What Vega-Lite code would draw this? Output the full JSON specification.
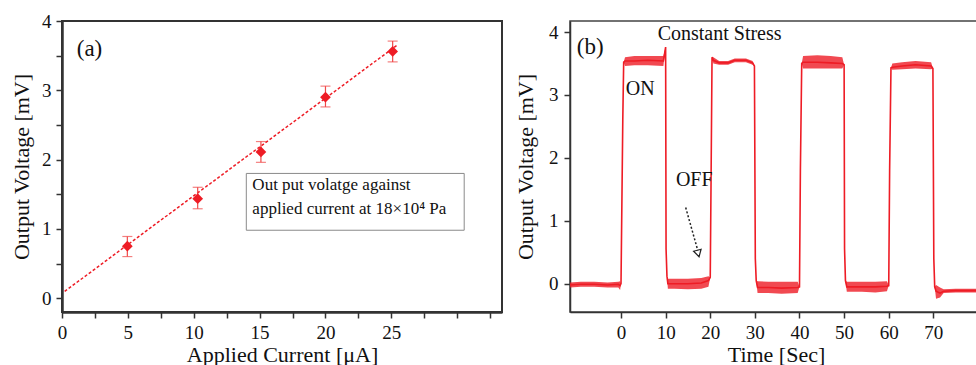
{
  "$schema": "https://vega.github.io/schema/vega-lite/v6.json",
  "background": "white",
  "padding": {"left": 9, "top": 11, "right": 0, "bottom": 0},
  "spacing": 10,
  "config": {
    "font": "Liberation Serif",
    "text": {"font": "Liberation Serif"},
    "axis": {
      "labelFont": "Liberation Serif", "titleFont": "Liberation Serif",
      "labelColor": "#111", "titleColor": "#111", "titleFontWeight": "normal",
      "grid": false, "domainColor": "#333", "tickColor": "#333",
      "labelFontSize": 19, "titleFontSize": 22, "labelFlush": false, "labelOverlap": false
    }
  },
  "datasets": {
    "a_pts": [
      {"x": 4.96, "y": 0.75, "lo": 0.60, "hi": 0.89},
      {"x": 10.3, "y": 1.435, "lo": 1.29, "hi": 1.60},
      {"x": 15.1, "y": 2.11, "lo": 1.96, "hi": 2.26},
      {"x": 20.0, "y": 2.90, "lo": 2.76, "hi": 3.06},
      {"x": 25.1, "y": 3.56, "lo": 3.41, "hi": 3.71}
    ],
    "a_fit": [{"x": 0.2, "y": 0.097}, {"x": 25.5, "y": 3.66}],
    "a_box": [{"x": 13.99, "x2": 30.53, "y": 1.80, "y2": 0.98}],
    "a_text": [
      {"x": 14.45, "y": 1.64, "label": "Out put volatge against"},
      {"x": 14.45, "y": 1.29, "label": "applied current at 18×10⁴ Pa"}
    ],
    "a_tag": [{"x": 1.12, "y": 3.59, "label": "(a)"}],
    "wave": [
      {"t": -11.43, "v": -0.02, "lo": -0.06, "hi": 0.02},
      {"t": -9, "v": -0.01, "lo": -0.05, "hi": 0.03},
      {"t": -6, "v": -0.01, "lo": -0.05, "hi": 0.03},
      {"t": -3, "v": -0.02, "lo": -0.06, "hi": 0.02},
      {"t": -0.6, "v": -0.01, "lo": -0.06, "hi": 0.03},
      {"t": -0.2, "v": -0.03, "lo": -0.1, "hi": 0.04},
      {"t": 0.0, "v": 0.0, "lo": 0.0, "hi": 0.0},
      {"t": 0.2, "v": 1.3, "lo": 1.3, "hi": 1.3},
      {"t": 0.4, "v": 2.6, "lo": 2.6, "hi": 2.6},
      {"t": 0.6, "v": 3.52, "lo": 3.52, "hi": 3.52},
      {"t": 0.9, "v": 3.54, "lo": 3.46, "hi": 3.6},
      {"t": 3, "v": 3.54, "lo": 3.47, "hi": 3.62},
      {"t": 6, "v": 3.55, "lo": 3.47, "hi": 3.62},
      {"t": 9.5, "v": 3.54, "lo": 3.46, "hi": 3.62},
      {"t": 10.0, "v": 3.76, "lo": 3.76, "hi": 3.76},
      {"t": 10.1, "v": 0.55, "lo": 0.55, "hi": 0.55},
      {"t": 10.3, "v": 0.12, "lo": 0.12, "hi": 0.12},
      {"t": 10.5, "v": 0.0, "lo": -0.08, "hi": 0.08},
      {"t": 12, "v": 0.0, "lo": -0.08, "hi": 0.08},
      {"t": 15, "v": 0.0, "lo": -0.09, "hi": 0.08},
      {"t": 18, "v": 0.01, "lo": -0.08, "hi": 0.09},
      {"t": 19.6, "v": 0.05, "lo": -0.05, "hi": 0.12},
      {"t": 20.0, "v": 0.1, "lo": 0.1, "hi": 0.1},
      {"t": 20.2, "v": 1.8, "lo": 1.8, "hi": 1.8},
      {"t": 20.4, "v": 3.6, "lo": 3.6, "hi": 3.6},
      {"t": 20.7, "v": 3.55, "lo": 3.5, "hi": 3.6},
      {"t": 22, "v": 3.51, "lo": 3.48, "hi": 3.54},
      {"t": 24, "v": 3.51, "lo": 3.48, "hi": 3.54},
      {"t": 25.5, "v": 3.55, "lo": 3.52, "hi": 3.58},
      {"t": 28, "v": 3.55, "lo": 3.52, "hi": 3.58},
      {"t": 29.5, "v": 3.51, "lo": 3.48, "hi": 3.54},
      {"t": 29.9, "v": 3.46, "lo": 3.46, "hi": 3.46},
      {"t": 30.1, "v": 0.4, "lo": 0.4, "hi": 0.4},
      {"t": 30.3, "v": 0.05, "lo": 0.05, "hi": 0.05},
      {"t": 30.6, "v": -0.06, "lo": -0.15, "hi": 0.04},
      {"t": 33, "v": -0.06, "lo": -0.15, "hi": 0.03},
      {"t": 36, "v": -0.07, "lo": -0.16, "hi": 0.03},
      {"t": 39.6, "v": -0.06, "lo": -0.15, "hi": 0.03},
      {"t": 40.0, "v": -0.05, "lo": -0.05, "hi": -0.05},
      {"t": 40.2, "v": 1.8, "lo": 1.8, "hi": 1.8},
      {"t": 40.5, "v": 3.5, "lo": 3.5, "hi": 3.5},
      {"t": 40.8, "v": 3.52, "lo": 3.42, "hi": 3.62},
      {"t": 44, "v": 3.52, "lo": 3.42, "hi": 3.63},
      {"t": 47, "v": 3.51, "lo": 3.42, "hi": 3.62},
      {"t": 49.6, "v": 3.5, "lo": 3.42, "hi": 3.6},
      {"t": 50.0, "v": 3.48, "lo": 3.48, "hi": 3.48},
      {"t": 50.1, "v": 0.55, "lo": 0.55, "hi": 0.55},
      {"t": 50.3, "v": 0.05, "lo": 0.05, "hi": 0.05},
      {"t": 50.6, "v": -0.05, "lo": -0.13, "hi": 0.03},
      {"t": 54, "v": -0.05, "lo": -0.13, "hi": 0.03},
      {"t": 57, "v": -0.05, "lo": -0.14, "hi": 0.03},
      {"t": 59.6, "v": -0.04, "lo": -0.12, "hi": 0.04},
      {"t": 60.0, "v": -0.03, "lo": -0.03, "hi": -0.03},
      {"t": 60.2, "v": 1.8, "lo": 1.8, "hi": 1.8},
      {"t": 60.5, "v": 3.43, "lo": 3.43, "hi": 3.43},
      {"t": 60.8, "v": 3.44, "lo": 3.4, "hi": 3.5},
      {"t": 63, "v": 3.46, "lo": 3.41, "hi": 3.52},
      {"t": 66, "v": 3.48, "lo": 3.42, "hi": 3.54},
      {"t": 69.5, "v": 3.46, "lo": 3.41, "hi": 3.52},
      {"t": 69.9, "v": 3.42, "lo": 3.42, "hi": 3.42},
      {"t": 70.1, "v": 0.4, "lo": 0.4, "hi": 0.4},
      {"t": 70.3, "v": -0.05, "lo": -0.05, "hi": -0.05},
      {"t": 70.6, "v": -0.12, "lo": -0.24, "hi": -0.02},
      {"t": 71.5, "v": -0.15, "lo": -0.22, "hi": -0.06},
      {"t": 72.3, "v": -0.12, "lo": -0.15, "hi": -0.09},
      {"t": 75, "v": -0.11, "lo": -0.14, "hi": -0.08},
      {"t": 80.9, "v": -0.11, "lo": -0.14, "hi": -0.08}
    ],
    "arrow": [{"t": 14.5, "v": 1.21}, {"t": 17.2, "v": 0.53}],
    "arrowhead": [{"t": 17.3, "v": 0.48}],
    "b_tag": [{"t": -9.9, "v": 3.76, "label": "(b)"}],
    "b_notes": [
      {"t": 1.05, "v": 3.10, "label": "ON"},
      {"t": 12.3, "v": 1.64, "label": "OFF"}
    ],
    "b_title": [{"t": 22.1, "v": 3.97, "label": "Constant Stress"}]
  },
  "hconcat": [
    {
      "width": 440,
      "height": 291,
      "view": {"stroke": "#333", "strokeWidth": 2},
      "encoding": {
        "x": {
          "field": "x", "type": "quantitative",
          "scale": {"domain": [0, 33.4], "nice": false, "zero": false},
          "axis": {
            "title": "Applied Current [μA]",
            "values": [0, 2.5, 5, 7.5, 10, 12.5, 15, 17.5, 20, 22.5, 25, 27.5, 30, 32.5],
            "labelExpr": "datum.value % 5 === 0 && datum.value <= 25 ? '' + datum.value : ''",
            "tickSize": 6, "labelPadding": 5, "domainWidth": 2.5, "tickWidth": 1.5, "titlePadding": 2
          }
        },
        "y": {
          "field": "y", "type": "quantitative",
          "scale": {"domain": [-0.2, 4], "nice": false, "zero": false},
          "axis": {
            "title": "Output Voltage [mV]",
            "values": [0, 0.5, 1, 1.5, 2, 2.5, 3, 3.5, 4],
            "labelExpr": "datum.value % 1 === 0 ? '' + datum.value : ''",
            "tickSize": 6, "labelPadding": 5, "domainWidth": 2.5, "tickWidth": 1.5, "titlePadding": 8
          }
        }
      },
      "layer": [
        {
          "data": {"name": "a_box"},
          "mark": {"type": "rect", "fill": "white", "stroke": "#8a8a8a", "strokeWidth": 1},
          "encoding": {"x2": {"field": "x2"}, "y2": {"field": "y2"}}
        },
        {
          "data": {"name": "a_fit"},
          "mark": {"type": "line", "color": "#ee1c25", "strokeWidth": 1.5, "strokeDash": [3, 2]}
        },
        {
          "data": {"name": "a_pts"},
          "mark": {"type": "rule", "color": "#f04848", "strokeWidth": 1.2},
          "encoding": {"y": {"field": "lo", "type": "quantitative"}, "y2": {"field": "hi"}}
        },
        {
          "data": {"name": "a_pts"},
          "mark": {"type": "tick", "orient": "horizontal", "color": "#f04848", "size": 10, "thickness": 1.2},
          "encoding": {"y": {"field": "lo", "type": "quantitative"}}
        },
        {
          "data": {"name": "a_pts"},
          "mark": {"type": "tick", "orient": "horizontal", "color": "#f04848", "size": 10, "thickness": 1.2},
          "encoding": {"y": {"field": "hi", "type": "quantitative"}}
        },
        {
          "data": {"name": "a_pts"},
          "mark": {"type": "point", "shape": "diamond", "filled": true, "color": "#ee1c25", "size": 115, "opacity": 1}
        },
        {
          "data": {"name": "a_text"},
          "mark": {"type": "text", "font": "Liberation Serif", "align": "left", "baseline": "middle", "fontSize": 17, "color": "#111"},
          "encoding": {"text": {"field": "label"}}
        },
        {
          "data": {"name": "a_tag"},
          "mark": {"type": "text", "font": "Liberation Serif", "align": "left", "baseline": "middle", "fontSize": 23, "color": "#111"},
          "encoding": {"text": {"field": "label"}}
        }
      ]
    },
    {
      "width": 412,
      "height": 291,
      "view": {"stroke": "#444", "strokeWidth": 1.5},
      "encoding": {
        "x": {
          "field": "t", "type": "quantitative",
          "scale": {"domain": [-11.43, 80.9], "nice": false, "zero": false},
          "axis": {
            "title": "Time [Sec]",
            "values": [0, 10, 20, 30, 40, 50, 60, 70],
            "tickSize": 6, "labelPadding": 5, "domainWidth": 1.5, "tickWidth": 1.5, "titlePadding": 2
          }
        },
        "y": {
          "field": "v", "type": "quantitative",
          "scale": {"domain": [-0.45, 4.175], "nice": false, "zero": false},
          "axis": {
            "title": "Output Voltage [mV]",
            "values": [0, 1, 2, 3, 4],
            "tickSize": 6, "labelPadding": 6, "domainWidth": 1.5, "tickWidth": 1.5, "titlePadding": 11
          }
        }
      },
      "layer": [
        {
          "data": {"name": "wave"},
          "mark": {"type": "area", "color": "#ee1c25", "opacity": 0.8},
          "encoding": {"y": {"field": "lo", "type": "quantitative"}, "y2": {"field": "hi"}}
        },
        {
          "data": {"name": "wave"},
          "mark": {"type": "line", "color": "#ee1c25", "strokeWidth": 1.6}
        },
        {
          "data": {"name": "arrow"},
          "mark": {"type": "line", "color": "#222", "strokeWidth": 1.5, "strokeDash": [2, 2]}
        },
        {
          "data": {"name": "arrowhead"},
          "mark": {"type": "point", "shape": "triangle-down", "filled": false, "color": "#222", "size": 60, "angle": 345, "strokeWidth": 1.2, "opacity": 1}
        },
        {
          "data": {"name": "b_tag"},
          "mark": {"type": "text", "font": "Liberation Serif", "align": "left", "baseline": "middle", "fontSize": 23, "color": "#111"},
          "encoding": {"text": {"field": "label"}}
        },
        {
          "data": {"name": "b_notes"},
          "mark": {"type": "text", "font": "Liberation Serif", "align": "left", "baseline": "middle", "fontSize": 20, "color": "#111"},
          "encoding": {"text": {"field": "label"}}
        },
        {
          "data": {"name": "b_title"},
          "mark": {"type": "text", "font": "Liberation Serif", "align": "center", "baseline": "middle", "fontSize": 20, "color": "#111"},
          "encoding": {"text": {"field": "label"}}
        }
      ]
    }
  ]
}
